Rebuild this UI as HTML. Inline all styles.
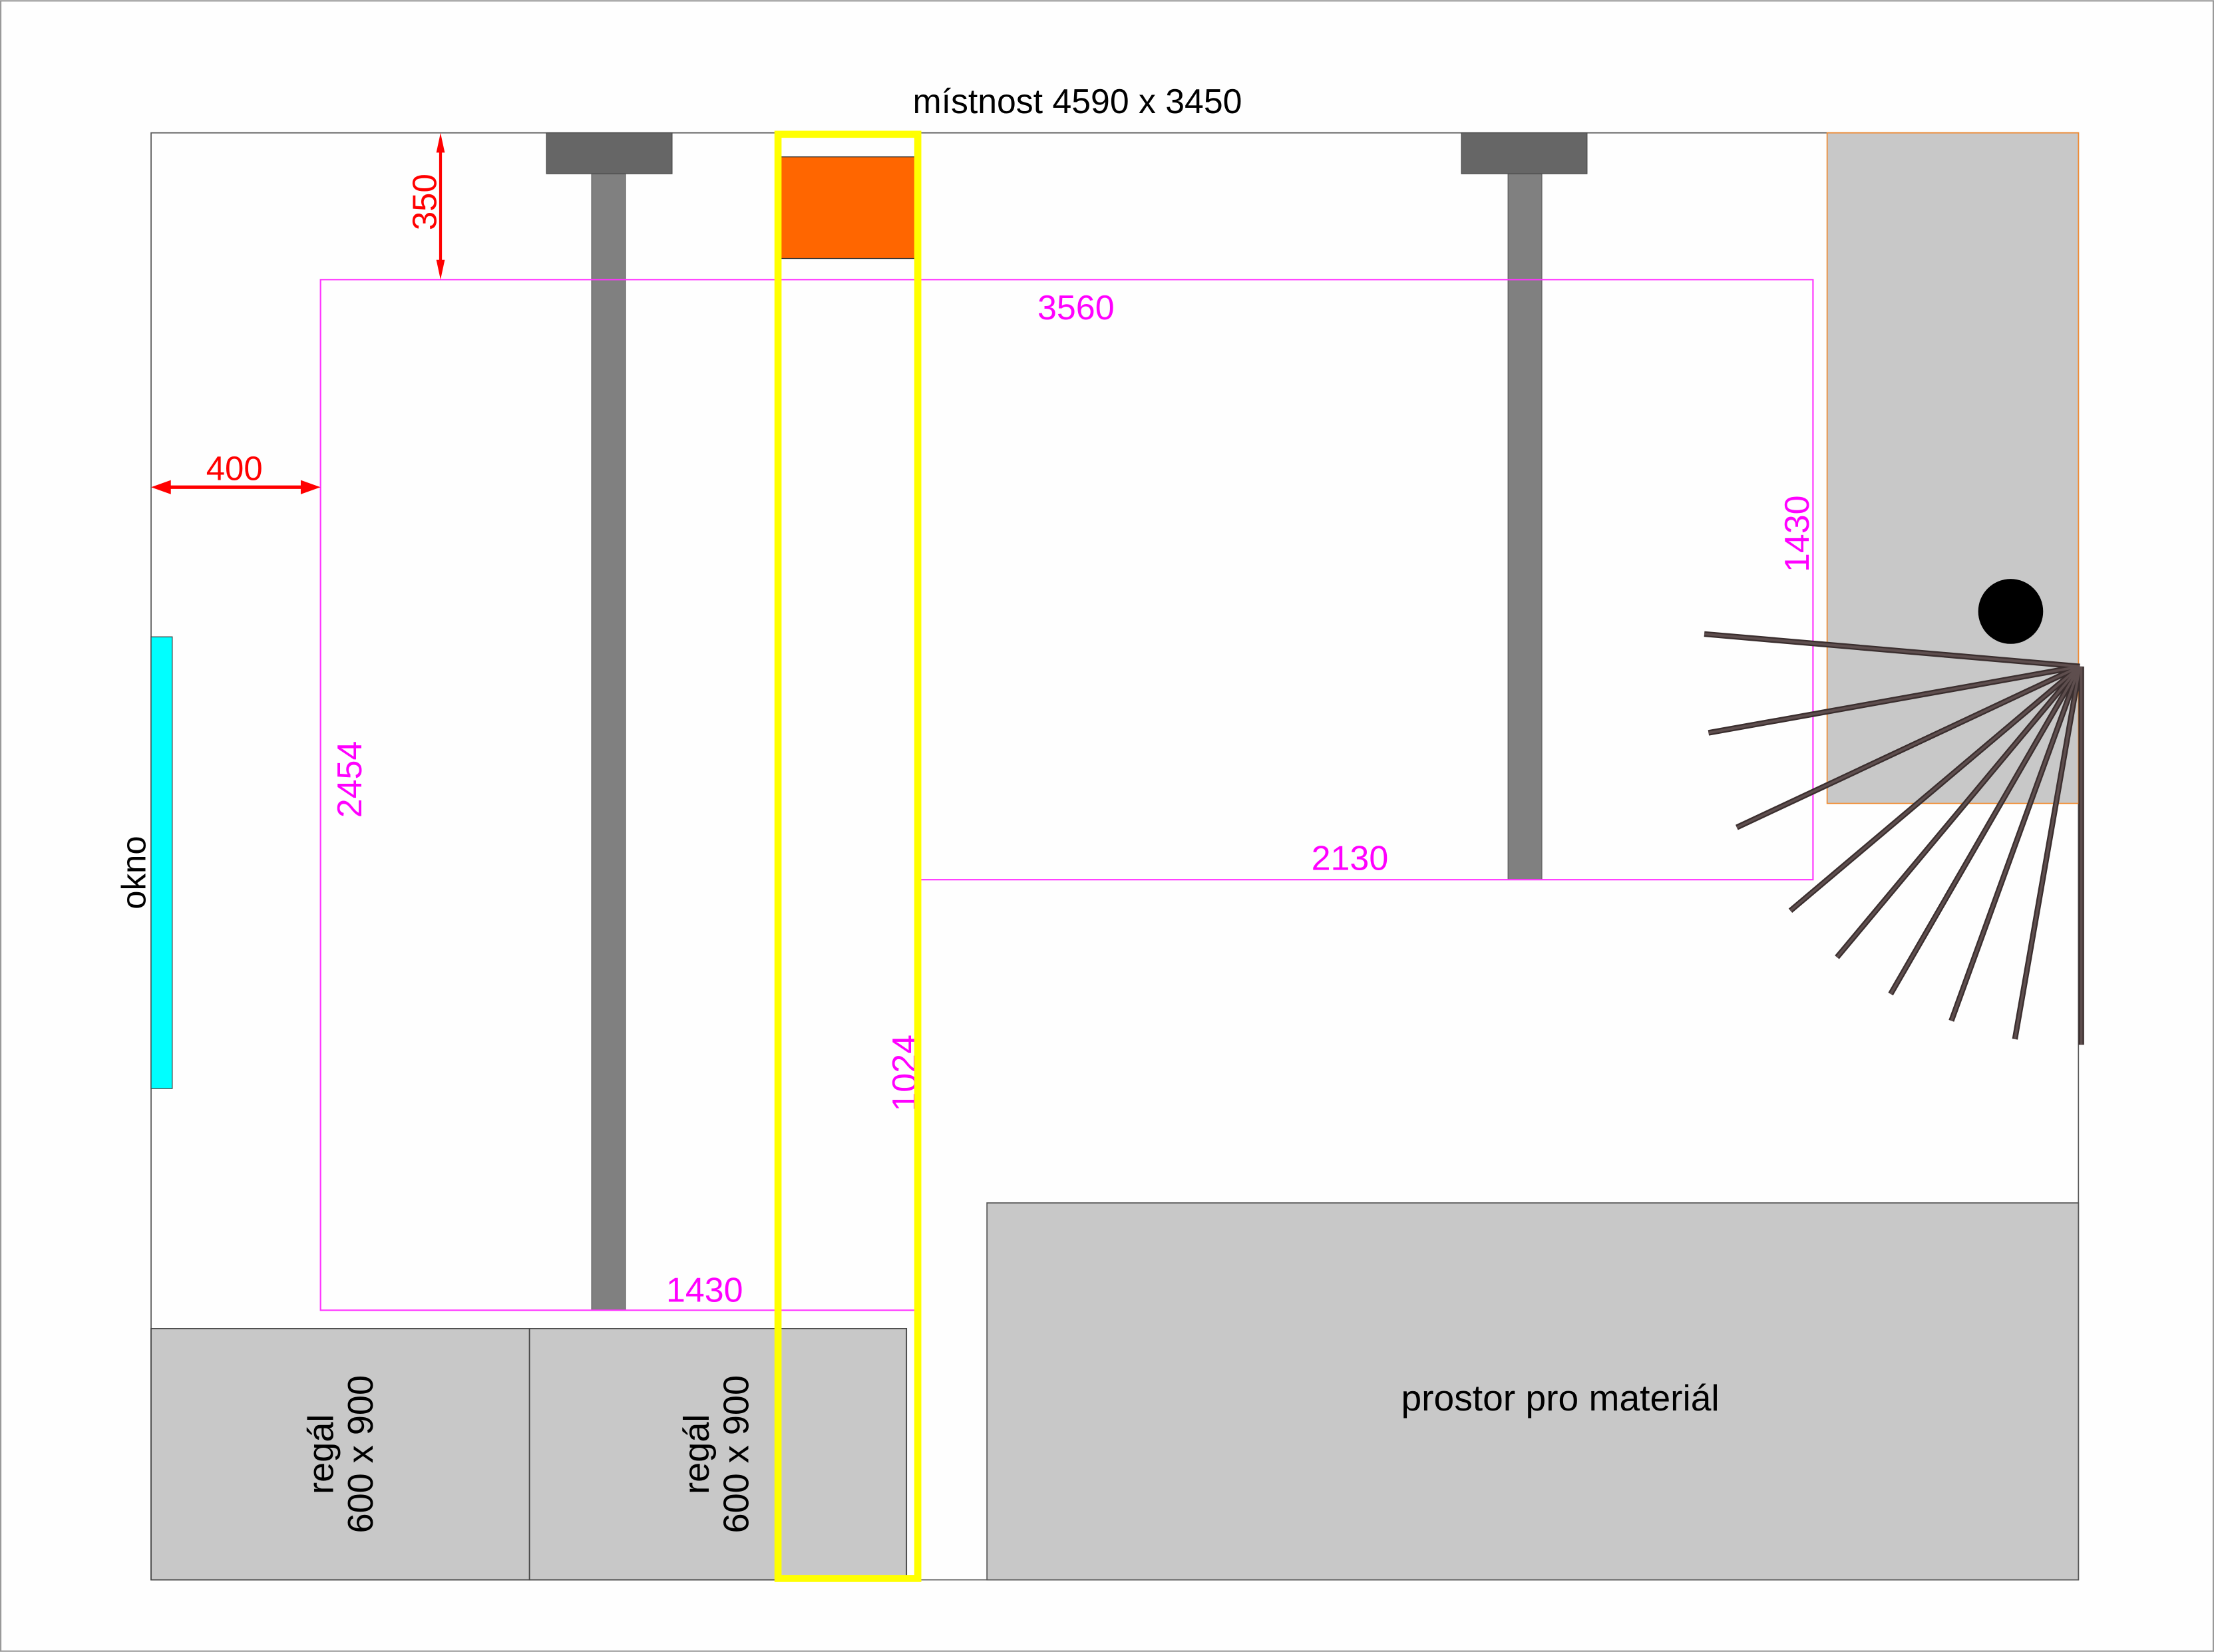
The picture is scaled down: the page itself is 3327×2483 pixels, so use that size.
<!DOCTYPE html>
<html><head><meta charset="utf-8"><style>html,body{margin:0;padding:0;background:#fff}svg{display:block}</style></head>
<body>
<svg width="3327" height="2483" viewBox="0 0 1568 1170" xmlns="http://www.w3.org/2000/svg" font-family="Liberation Sans, DejaVu Sans, sans-serif">
<rect x="0.5" y="0.5" width="1567" height="1169" fill="#fefefe" stroke="#999" stroke-width="1"/>
<text x="763" y="80" font-size="24.4" text-anchor="middle" fill="#000">místnost 4590 x 3450</text>
<rect x="107" y="94" width="1365" height="1025" fill="#fefefe" stroke="#555" stroke-width="0.8"/>
<rect x="1294" y="94" width="178" height="475" fill="#c8c8c8" stroke="#f08a30" stroke-width="0.8"/>
<circle cx="1424" cy="433" r="23" fill="#000"/>
<rect x="699" y="852" width="773" height="267" fill="#c8c8c8" stroke="#555" stroke-width="0.8"/>
<text x="1105" y="999" font-size="26" text-anchor="middle" fill="#000">prostor pro materiál</text>
<rect x="107" y="941" width="268" height="178" fill="#c8c8c8" stroke="#444" stroke-width="0.8"/>
<rect x="375" y="941" width="267" height="178" fill="#c8c8c8" stroke="#444" stroke-width="0.8"/>
<g font-size="25.5" fill="#000" text-anchor="middle">
<text transform="translate(236,1030) rotate(-90)">regál</text>
<text transform="translate(264,1030) rotate(-90)">600 x 900</text>
<text transform="translate(502,1030) rotate(-90)">regál</text>
<text transform="translate(530,1030) rotate(-90)">600 x 900</text>
</g>
<rect x="107" y="451" width="15" height="320" fill="#00ffff" stroke="#444" stroke-width="0.6"/>
<text transform="translate(103,618) rotate(-90)" font-size="24" text-anchor="middle" fill="#000">okno</text>
<rect x="419" y="123" width="24" height="805" fill="#808080" stroke="#555" stroke-width="0.5"/>
<rect x="387" y="94" width="89" height="29" fill="#666" stroke="#444" stroke-width="0.5"/>
<rect x="1068" y="123" width="24" height="500" fill="#808080" stroke="#555" stroke-width="0.5"/>
<rect x="1035" y="94" width="89" height="29" fill="#666" stroke="#444" stroke-width="0.5"/>
<polygon points="227,198 1284,198 1284,623 651,623 651,928 227,928" fill="none" stroke="#ff33ff" stroke-width="1"/>
<g font-size="24.5" fill="#ff00ff" text-anchor="middle">
<text x="762" y="226">3560</text>
<text x="956" y="616">2130</text>
<text x="499" y="922">1430</text>
<text transform="translate(1281,378) rotate(-90)">1430</text>
<text transform="translate(649,760) rotate(-90)">1024</text>
<text transform="translate(256,552) rotate(-90)">2454</text>
</g>
<rect x="550" y="111" width="101" height="72" fill="#ff6600" stroke="#333" stroke-width="0.6"/>
<rect x="551" y="95" width="99" height="1023" fill="none" stroke="#ffff00" stroke-width="5"/>
<g stroke="#ff0000" fill="#ff0000">
<line x1="312" y1="100" x2="312" y2="192" stroke-width="2"/>
<polygon points="312,94 309,108 315,108" stroke="none"/>
<polygon points="312,198 309,184 315,184" stroke="none"/>
<line x1="113" y1="345" x2="221" y2="345" stroke-width="2.5"/>
<polygon points="107,345 121,340 121,350" stroke="none"/>
<polygon points="227,345 213,340 213,350" stroke="none"/>
</g>
<text x="166" y="340" font-size="24" fill="#ff0000" text-anchor="middle">400</text>
<text transform="translate(309,143) rotate(-90)" font-size="24" fill="#ff0000" text-anchor="middle">350</text>
<g stroke="#3a2e2e" stroke-width="4">
<line x1="1473" y1="472" x2="1207" y2="449"/>
<line x1="1473" y1="472" x2="1210" y2="519"/>
<line x1="1473" y1="472" x2="1230" y2="586"/>
<line x1="1473" y1="472" x2="1268" y2="645"/>
<line x1="1473" y1="472" x2="1301" y2="678"/>
<line x1="1473" y1="472" x2="1339" y2="704"/>
<line x1="1473" y1="472" x2="1382" y2="723"/>
<line x1="1473" y1="472" x2="1427" y2="736"/>
<line x1="1474" y1="472" x2="1474" y2="740"/>
</g>
<g stroke="#5e4e4e" stroke-width="1.8">
<line x1="1473" y1="472" x2="1207" y2="449"/>
<line x1="1473" y1="472" x2="1210" y2="519"/>
<line x1="1473" y1="472" x2="1230" y2="586"/>
<line x1="1473" y1="472" x2="1268" y2="645"/>
<line x1="1473" y1="472" x2="1301" y2="678"/>
<line x1="1473" y1="472" x2="1339" y2="704"/>
<line x1="1473" y1="472" x2="1382" y2="723"/>
<line x1="1473" y1="472" x2="1427" y2="736"/>
<line x1="1474" y1="472" x2="1474" y2="740"/>
</g>
</svg>
</body></html>
